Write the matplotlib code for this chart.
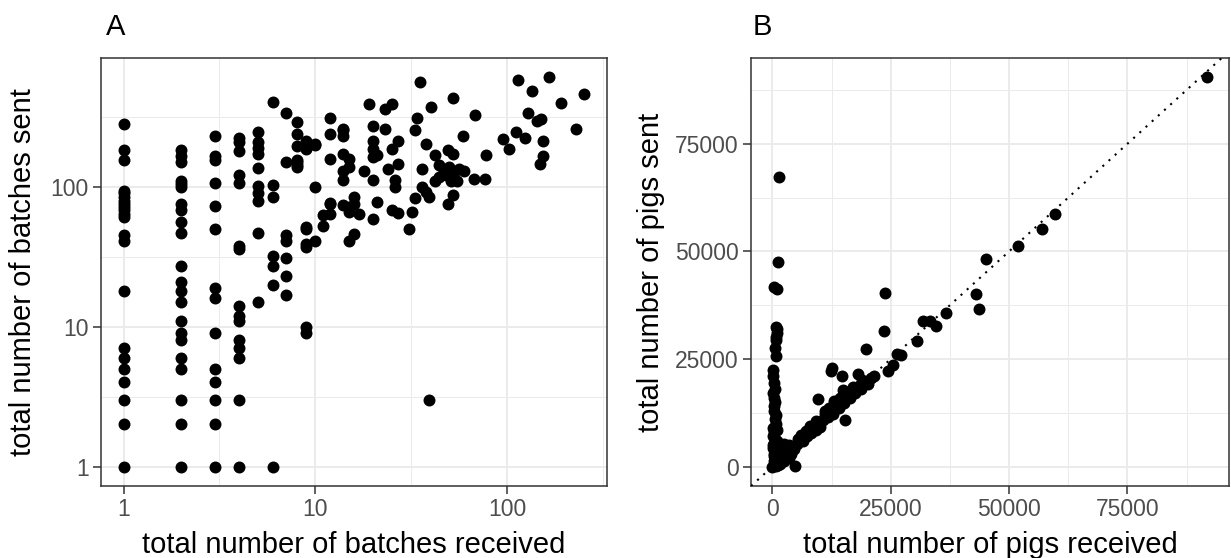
import numpy as np
import matplotlib.pyplot as plt

plt.rcParams['font.family'] = ['Liberation Sans', 'DejaVu Sans']

# panel A: batches received / sent per farm (log-log)
batches_received = (
    [1] * 22 + [2] * 22 + [3] * 14 + [4] * 15 + [5] * 10 + [6] * 7 + [7] * 7
    + [8] * 7 + [9] * 9 + [10] * 4
    + [11, 11, 12, 12, 12, 12, 12, 12, 14, 14, 14, 14, 14, 14, 14, 15, 15, 15,
       15, 15, 16, 16, 16, 17, 18, 19, 20, 20, 20, 20, 20, 20, 21, 21, 23, 23,
       24, 25, 25, 25, 26, 26, 27, 27, 27, 31, 32, 33, 33, 34, 35, 36, 36, 38,
       38, 39, 39, 40, 42, 42, 44, 44, 47, 48, 49, 49, 50, 51, 52, 52, 52, 53,
       55, 56, 59, 60, 67, 68, 77, 78, 95, 103, 111, 114, 124, 128, 135, 144,
       148, 151, 154, 154, 166, 192, 228, 252]
)
batches_sent = (
    [1, 2, 3, 4, 5, 6, 7, 18, 41, 45, 61, 64, 68, 72, 76, 80, 85, 90, 94, 155, 185, 283]
    + [1, 2, 3, 5, 6, 8, 9, 11, 15, 18, 21, 27, 47, 56, 68, 76, 100, 105, 110, 151, 168, 185]
    + [1, 2, 3, 4, 5, 9, 16, 19, 50, 73, 106, 155, 168, 232]
    + [1, 3, 6, 7, 8, 11, 12, 14, 36, 38, 107, 121, 181, 209, 225]
    + [15, 47, 80, 91, 101, 136, 173, 191, 209, 248]
    + [1, 20, 27, 32, 85, 104, 408]
    + [17, 23, 31, 41, 45, 151, 339]
    + [139, 144, 151, 156, 198, 240, 290]
    + [9, 10, 37, 39, 50, 52, 186, 191, 215]
    + [41, 100, 201, 204]
    + [53, 63, 64, 75, 77, 159, 240, 312, 74, 113, 131, 173, 230, 254, 261, 41, 66,
       72, 139, 159, 46, 76, 85, 64, 131, 393, 59, 113, 164, 186, 215, 275, 78,
       170, 261, 362, 135, 68, 186, 393, 100, 113, 65, 145, 215, 50, 66, 83,
       257, 312, 567, 100, 135, 92, 204, 3, 85, 376, 110, 170, 118, 143, 131,
       121, 75, 185, 139, 111, 87, 173, 431, 128, 111, 135, 230, 131, 115, 328,
       115, 170, 219, 186, 247, 583, 225, 339, 489, 296, 146, 307, 166, 215,
       608, 397, 258, 462]
)

# panel B: pigs received / sent per farm
pigs_received = [
    100, 200, 300, 500, 150, 400, 600, 250, 350, 800, 450, 700, 50, 900, 300,
    200, 600, 1000, 400, 150, 700, 500, 800, 350, 250, 900, 550, 1100, 650,
    450, 1200, 750, 0, 300, 600, 200, 1300, 900, 1600, 2000, 2400, 700, 600,
    800, 700, 900, 800, 1000, 300, 900, 1200, 1400,
    1000, 1500, 1800, 2200, 2600, 3000, 3300, 3700, 4200, 4600, 5100, 5600,
    6000, 6400, 6900, 7300, 7800, 8200, 8700, 9100, 9600, 10100, 10600, 11200,
    11700, 12300, 12800, 13400, 14000, 14500, 15100, 15700, 16300, 16900,
    17500, 18200, 18800, 19500, 20100, 20800, 21400,
    2400, 6000, 8000, 11000, 13000, 15000, 17000, 19000, 3500, 4000, 2800,
    1500, 2500, 3500, 600, 1800, 5400, 7000, 9300, 12000, 14200,
    24500, 25500, 26300, 27100, 30600, 31900, 33300, 34600, 36700, 42900,
    43600, 45200, 51900, 57000, 59600, 91900, 23500, 23800, 19800, 18100,
    14700, 12300, 12600, 9700, 15400, 4800,
]
pigs_sent = [
    22500, 21000, 19500, 18000, 17000, 16000, 15000, 14000, 13000, 12000,
    11000, 10000, 9000, 8500, 8000, 7000, 6500, 6000, 5500, 5000, 4500, 4000,
    3500, 3000, 2500, 2000, 1500, 1000, 800, 500, 300, 100, 0, 1200, 2600,
    4200, 2200, 3000, 2800, 1800, 3500, 25600, 27500, 29500, 30200, 32000,
    32500, 31000, 41700, 41300, 47500, 67300,
    1300, 1100, 2400, 1900, 3100, 2700, 3900, 3400, 4600, 4100, 5300, 5900,
    6800, 6000, 7500, 7000, 8600, 7700, 9200, 8400, 10100, 9200, 10900, 12300,
    11500, 13000, 12100, 14200, 13600, 15300, 14700, 16800, 16000, 17700,
    17200, 18600, 18100, 19500, 19200, 20600, 21000,
    5200, 7300, 9400, 12800, 15200, 17900, 18400, 20200, 5000, 2900, 4400,
    500, 1300, 2000, 2300, 3800, 6300, 8300, 10600, 13700, 15900,
    22100, 23600, 26100, 26000, 29200, 33700, 33700, 32700, 35600, 40100,
    36600, 48200, 51300, 55100, 58600, 90400, 31400, 40300, 27200, 21600,
    21100, 22100, 22900, 15600, 10800, 150,
]

W, H = 1231, 558
fig = plt.figure(figsize=(W / 100, H / 100), dpi=100)
ax_a = fig.add_axes([100.5 / W, 72 / H, 506.5 / W, 428 / H])
ax_b = fig.add_axes([750.7 / W, 72 / H, 478.5 / W, 428 / H])

tick_col = '#4D4D4D'
grid_col = '#EBEBEB'


def style(ax):
    ax.set_axisbelow(True)
    ax.grid(which='major', color=grid_col, lw=1.4)
    ax.grid(which='minor', color=grid_col, lw=0.7)
    for s in ax.spines.values():
        s.set_color('#333333')
        s.set_linewidth(1.1)
    ax.tick_params(which='major', length=5.5, width=1.1, color='#333333',
                   labelsize=16.5, labelcolor=tick_col, pad=3)
    ax.tick_params(which='minor', length=0)


# A
ax_a.scatter(batches_received, batches_sent, s=74, color='black', lw=0, zorder=3)
ax_a.set_xscale('log')
ax_a.set_yscale('log')
lx = np.log10(batches_received)
ly = np.log10(batches_sent)
ax_a.set_xlim(10 ** (lx.min() - 0.05 * np.ptp(lx)), 10 ** (lx.max() + 0.05 * np.ptp(lx)))
ax_a.set_ylim(10 ** (ly.min() - 0.05 * np.ptp(ly)), 10 ** (ly.max() + 0.05 * np.ptp(ly)))
ax_a.set_xticks([1, 10, 100], ['1', '10', '100'])
ax_a.set_yticks([1, 10, 100], ['1', '10', '100'])
ax_a.set_xticks(10 ** np.array([0.5, 1.5, 2.5]), minor=True)
ax_a.set_yticks(10 ** np.array([0.5, 1.5, 2.5]), minor=True)
ax_a.xaxis.set_minor_formatter(plt.NullFormatter())
ax_a.yaxis.set_minor_formatter(plt.NullFormatter())
style(ax_a)
ax_a.set_xlabel('total number of batches received', fontsize=21, labelpad=7)
ax_a.set_ylabel('total number of batches sent', fontsize=21, labelpad=10)

# B
ax_b.scatter(pigs_received, pigs_sent, s=74, color='black', lw=0, zorder=3)
ax_b.axline((0, 0), slope=1, color='black', lw=1.5, ls=(0, (1, 3)), zorder=4)
xr = max(pigs_received) - min(pigs_received)
yr = max(pigs_sent) - min(pigs_sent)
ax_b.set_xlim(min(pigs_received) - 0.05 * xr, max(pigs_received) + 0.05 * xr)
ax_b.set_ylim(min(pigs_sent) - 0.05 * yr, max(pigs_sent) + 0.05 * yr)
ticks = [0, 25000, 50000, 75000]
ax_b.set_xticks(ticks, [str(t) for t in ticks])
ax_b.set_yticks(ticks, [str(t) for t in ticks])
ax_b.set_xticks([12500, 37500, 62500, 87500], minor=True)
ax_b.set_yticks([12500, 37500, 62500, 87500], minor=True)
style(ax_b)
ax_b.set_xlabel('total number of pigs received', fontsize=21, labelpad=7)
ax_b.set_ylabel('total number of pigs sent', fontsize=21, labelpad=7)

fig.text(106 / W, 1 - 35 / H, 'A', fontsize=21, va='baseline')
fig.text(753 / W, 1 - 35 / H, 'B', fontsize=21, va='baseline')

fig.savefig('out.png', dpi=100)
